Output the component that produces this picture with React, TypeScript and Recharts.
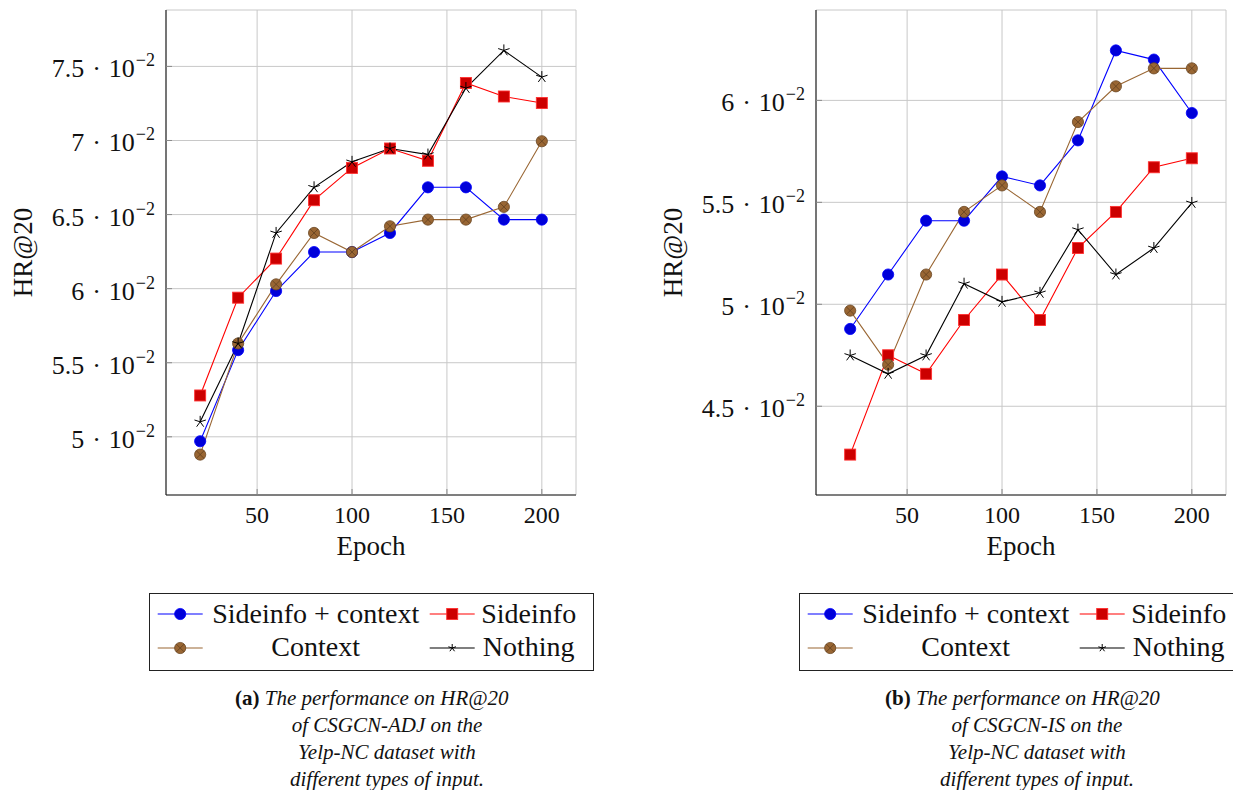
import React from "react";
import { LineChart, Line, XAxis, YAxis, CartesianGrid, Legend } from "recharts";

const FONT = '"Liberation Serif", "Times New Roman", serif';

const epochs = [20, 40, 60, 80, 100, 120, 140, 160, 180, 200];

// (a) CSGCN-ADJ
const adjSideinfoContext = [0.0497, 0.05585, 0.05984, 0.06247, 0.06247, 0.06376, 0.06684, 0.06684, 0.06466, 0.06466];
const adjSideinfo = [0.05279, 0.05939, 0.06203, 0.06597, 0.06815, 0.06946, 0.06863, 0.07388, 0.07297, 0.07253];
const adjContext = [0.0488, 0.0563, 0.06029, 0.06376, 0.06247, 0.06421, 0.06466, 0.06466, 0.06552, 0.06995];
const adjNothing = [0.05101, 0.0563, 0.06376, 0.06684, 0.06856, 0.06946, 0.06905, 0.07354, 0.07608, 0.07428];

// (b) CSGCN-IS
const isSideinfoContext = [0.04879, 0.05146, 0.0541, 0.0541, 0.05627, 0.05583, 0.05804, 0.06245, 0.062, 0.05938];
const isSideinfo = [0.04263, 0.0475, 0.04659, 0.04923, 0.05146, 0.04923, 0.05276, 0.05453, 0.05672, 0.05716];
const isContext = [0.04969, 0.04704, 0.05146, 0.05453, 0.05583, 0.05453, 0.05894, 0.06069, 0.06157, 0.06157];
const isNothing = [0.04749, 0.04659, 0.04749, 0.05101, 0.05012, 0.05056, 0.05366, 0.05146, 0.05276, 0.05497];

const xTicks = [50, 100, 150, 200];
const adjYTicks = [0.05, 0.055, 0.06, 0.065, 0.07, 0.075];
const isYTicks = [0.045, 0.05, 0.055, 0.06];

const seriesNames = ["Sideinfo + context", "Sideinfo", "Context", "Nothing"];

const captionA = ["The performance on HR@20", "of CSGCN-ADJ on the", "Yelp-NC dataset with", "different types of input."];
const captionB = ["The performance on HR@20", "of CSGCN-IS on the", "Yelp-NC dataset with", "different types of input."];

// pgfplots-like "enlarge limits" by 10%
function enlarge(vals: number[]): [number, number] {
  const lo = Math.min(...vals);
  const hi = Math.max(...vals);
  const pad = (hi - lo) * 0.1;
  return [lo - pad, hi + pad];
}

/* ---------- markers ---------- */
function CircleMark({ cx, cy, r = 5.6 }: any) {
  if (cx == null || cy == null) return null;
  return <circle cx={cx} cy={cy} r={r} fill="#0000d9" stroke="#0000ff" strokeWidth={0.8} />;
}

function SquareMark({ cx, cy, s = 11 }: any) {
  if (cx == null || cy == null) return null;
  return <rect x={cx - s / 2} y={cy - s / 2} width={s} height={s} fill="#cc0000" stroke="#ff3030" strokeWidth={0.9} />;
}

function OtimesMark({ cx, cy, r = 5.6 }: any) {
  if (cx == null || cy == null) return null;
  const d = r * 0.7071;
  return (
    <g>
      <circle cx={cx} cy={cy} r={r} fill="#996633" stroke="#6b4724" strokeWidth={0.8} />
      <path d={`M${cx - d},${cy - d}L${cx + d},${cy + d}M${cx - d},${cy + d}L${cx + d},${cy - d}`} stroke="#5a3b1c" strokeWidth={0.7} />
    </g>
  );
}

function StarMark({ cx, cy, r = 6 }: any) {
  if (cx == null || cy == null) return null;
  let d = "";
  for (let k = 0; k < 5; k++) {
    const a = ((-90 + 72 * k) * Math.PI) / 180;
    d += `M${cx},${cy}L${cx + r * Math.cos(a)},${cy + r * Math.sin(a)}`;
  }
  return <path d={d} stroke="#000" strokeWidth={1} fill="none" />;
}

const seriesStyle = [
  { key: "sc", color: "#0000ff", Mark: CircleMark },
  { key: "s", color: "#ff0000", Mark: SquareMark },
  { key: "c", color: "#996633", Mark: OtimesMark },
  { key: "n", color: "#000000", Mark: StarMark },
];

/* ---------- ticks & titles ---------- */
function YTick(props: any) {
  const { x, y, payload } = props;
  const m = Math.round(payload.value * 1000) / 10;
  return (
    <text x={x} y={y} dy={11} textAnchor="end" fontFamily={FONT} fontSize={26} fill="#111">
      <tspan>{`${m}`}</tspan>
      <tspan dx={8}>{"\u00B7"}</tspan>
      <tspan dx={8}>10</tspan>
      <tspan dy={-11} dx={1} fontSize={18}>{"\u22122"}</tspan>
    </text>
  );
}

function XTick(props: any) {
  const { x, y, payload } = props;
  return (
    <text x={x} y={y} textAnchor="middle" fontFamily={FONT} fontSize={24} fill="#111">
      {payload.value}
    </text>
  );
}

const xTitle = (props: any) => {
  const vb = props.viewBox || { x: 166, y: 495, width: 410, height: 60 };
  return (
    <text x={vb.x + vb.width / 2} y={vb.y + 60} textAnchor="middle" fontFamily={FONT} fontSize={27} fill="#111">
      Epoch
    </text>
  );
};

const yTitle = (props: any) => {
  const vb = props.viewBox || { x: 0, y: 10, width: 166, height: 485 };
  const tx = vb.x + 32;
  const ty = vb.y + vb.height / 2;
  return (
    <text x={tx} y={ty} textAnchor="middle" fontFamily={FONT} fontSize={27} fill="#111" transform={`rotate(-90 ${tx} ${ty})`}>
      HR@20
    </text>
  );
};

const emptyTick = () => <g />;

/* ---------- legend ---------- */
function LegendBox() {
  const rows = [21, 55];
  const base = [29.5, 63];
  const sampleX = [8.7, 280.7];
  const textX = [166.7, 379.7];
  return (
    <svg width={446} height={79} style={{ display: "block", overflow: "visible" }}>
      <rect x={0.5} y={0.5} width={444} height={77} fill="#fff" stroke="#222" strokeWidth={1} />
      {seriesStyle.map((st, i) => {
        const r = Math.floor(i / 2);
        const c = i % 2;
        const M = st.Mark;
        return (
          <g key={st.key}>
            <line x1={sampleX[c]} x2={sampleX[c] + 45} y1={rows[r]} y2={rows[r]} stroke={st.color} strokeWidth={1.1} />
            <M cx={sampleX[c] + 22.5} cy={rows[r]} r={i === 3 ? 4 : 5.6} s={11} />
            <text x={textX[c]} y={base[r]} textAnchor="middle" fontFamily={FONT} fontSize={28} fill="#111">
              {seriesNames[i]}
            </text>
          </g>
        );
      })}
    </svg>
  );
}

/* ---------- panel ---------- */
function Panel({ left, series, yTicks, tag, caption }: any) {
  const data = epochs.map((e, i) => ({ epoch: e, sc: series[0][i], s: series[1][i], c: series[2][i], n: series[3][i] }));
  const yDomain = enlarge(series.flat());
  const xDomain = enlarge(epochs);
  const axisStroke = { stroke: "#1a1a1a", strokeWidth: 1.1 };
  const tickStroke = { stroke: "#8a8a8a", strokeWidth: 1 };
  return (
    <div style={{ position: "absolute", left, top: 0, width: 600, height: 790 }}>
      <LineChart width={600} height={790} data={data} margin={{ top: 10, right: 24, left: 0, bottom: 235 }}>
        <CartesianGrid stroke="#c8c8c8" strokeWidth={1} />
        <XAxis
          dataKey="epoch"
          type="number"
          domain={xDomain}
          ticks={xTicks}
          allowDataOverflow
          height={60}
          tickSize={-6}
          tickMargin={34}
          tick={<XTick />}
          tickLine={tickStroke}
          axisLine={axisStroke}
          label={{ value: "Epoch", content: xTitle }}
        />
        <XAxis
          xAxisId="top"
          orientation="top"
          dataKey="epoch"
          type="number"
          domain={xDomain}
          ticks={xTicks}
          allowDataOverflow
          height={0}
          tickSize={-6}
          tick={emptyTick}
          tickLine={tickStroke}
          axisLine={axisStroke}
        />
        <YAxis
          type="number"
          domain={yDomain}
          ticks={yTicks}
          allowDataOverflow
          width={166}
          tickSize={-6}
          tickMargin={17}
          tick={<YTick />}
          tickLine={tickStroke}
          axisLine={axisStroke}
          label={{ value: "HR@20", content: yTitle }}
        />
        <YAxis
          yAxisId="right"
          orientation="right"
          type="number"
          domain={yDomain}
          ticks={yTicks}
          allowDataOverflow
          width={0}
          tickSize={-6}
          tick={emptyTick}
          tickLine={tickStroke}
          axisLine={axisStroke}
        />
        <Legend
          layout="horizontal"
          verticalAlign="middle"
          align="center"
          wrapperStyle={{ left: 149, top: 593, width: 446, height: 79 }}
          content={() => <LegendBox />}
        />
        {seriesStyle.map((st, i) => {
          const M = st.Mark;
          return (
            <Line
              key={st.key}
              dataKey={st.key}
              name={seriesNames[i]}
              type="linear"
              stroke={st.color}
              strokeWidth={1.1}
              dot={(p: any) => <M key={`${st.key}-${p.index}`} cx={p.cx} cy={p.cy} />}
              activeDot={false}
              isAnimationActive={false}
            />
          );
        })}
      </LineChart>
      <svg width={600} height={790} style={{ position: "absolute", left: 0, top: 0, pointerEvents: "none" }}>
        <text x={235} y={705} fontFamily={FONT} fontSize={21} fill="#111">
          <tspan fontWeight="bold" fontStyle="normal">{tag}</tspan>
          <tspan fontStyle="italic">{` ${caption[0]}`}</tspan>
        </text>
        {caption.slice(1).map((line: string, i: number) => (
          <text key={i} x={387} y={732 + i * 27} textAnchor="middle" fontFamily={FONT} fontSize={21} fontStyle="italic" fill="#111">
            {line}
          </text>
        ))}
      </svg>
    </div>
  );
}

export default function App() {
  return (
    <div style={{ position: "absolute", left: 0, top: 0, width: 1233, height: 790, overflow: "hidden", background: "#fff" }}>
      <Panel left={0} series={[adjSideinfoContext, adjSideinfo, adjContext, adjNothing]} yTicks={adjYTicks} tag="(a)" caption={captionA} />
      <Panel left={650} series={[isSideinfoContext, isSideinfo, isContext, isNothing]} yTicks={isYTicks} tag="(b)" caption={captionB} />
    </div>
  );
}
